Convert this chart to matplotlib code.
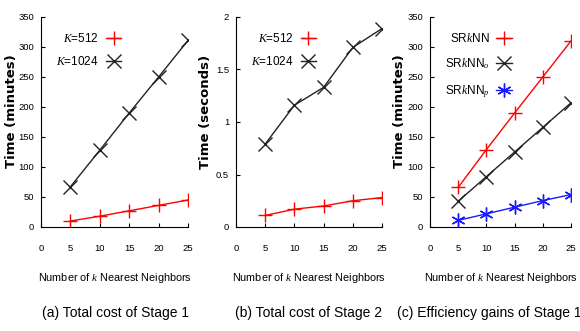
import numpy as np
import matplotlib.pyplot as plt

# ---------------------------------------------------------------------------
# data
# ---------------------------------------------------------------------------
k_vals = [5, 10, 15, 20, 25]

# (a) stage 1 total cost [minutes]
a_k512 = [10, 18, 27, 36, 45]
a_k1024 = [67, 128, 190, 250, 311]

# (b) stage 2 total cost [seconds]
b_k512 = [0.11, 0.17, 0.20, 0.25, 0.28]
b_k1024 = [0.79, 1.16, 1.33, 1.71, 1.89]

# (c) efficiency gains of stage 1 [minutes]
c_srknn = [66, 129, 190, 250, 310]
c_srknn_o = [43, 84, 125, 166, 207]
c_srknn_p = [11, 22, 33, 44, 54]

x_ticks = [0, 5, 10, 15, 20, 25]
captions = ["(a) Total cost of Stage 1", "(b) Total cost of Stage 2",
            "(c) Efficiency gains of Stage 1"]

plt.rcParams['font.family'] = ['Liberation Sans Narrow', 'Liberation Sans', 'DejaVu Sans']
plt.rcParams['mathtext.fontset'] = 'custom'
plt.rcParams['mathtext.it'] = 'Liberation Serif:italic'

W, H = 580, 331
fig = plt.figure(figsize=(W / 100, H / 100), dpi=100)


def px_axes(left, right, top, bottom):
    return fig.add_axes([left / W, 1 - bottom / H, (right - left) / W, (bottom - top) / H])


ax_a = px_axes(41, 188, 17, 227)
ax_b = px_axes(236, 382, 17, 227)
ax_c = px_axes(430, 571, 17, 227)

RED = "#ff0000"
BLK = "#222222"
BLU = "#1a1aff"

line_kw = dict(linewidth=1.0, markersize=10, markeredgewidth=1.0)

ax_a.plot(k_vals, a_k512, color=RED, marker="+", label="$K$=512", **line_kw)
ax_a.plot(k_vals, a_k1024, color=BLK, marker="x", label="$K$=1024", **line_kw)

ax_b.plot(k_vals, b_k512, color=RED, marker="+", label="$K$=512", **line_kw)
ax_b.plot(k_vals, b_k1024, color=BLK, marker="x", label="$K$=1024", **line_kw)

ax_c.plot(k_vals, c_srknn, color=RED, marker="+", label="SR$k$NN", **line_kw)
ax_c.plot(k_vals, c_srknn_o, color=BLK, marker="x", label="SR$k$NN$_o$", **line_kw)
ax_c.plot(k_vals, c_srknn_p, color=BLU, marker=(6, 2, 0), label="SR$k$NN$_p$", **line_kw)

ylims = [(0, 350), (0, 2), (0, 350)]
yticks = [np.arange(0, 351, 50), [0, 0.5, 1, 1.5, 2], np.arange(0, 351, 50)]
yticklabels = [None, ["0", "0.5", "1", "1.5", "2"], None]
ylabels = ["Time (minutes)", "Time (seconds)", "Time (minutes)"]
# ylabel centre x (px) and caption centre x (px) for each panel
ylab_x = [12, 206, 399]
cap_x = [116, 309, 489]

for i, ax in enumerate([ax_a, ax_b, ax_c]):
    ax.set_xlim(0, 25)
    ax.set_ylim(*ylims[i])
    ax.set_xticks(x_ticks)
    ax.set_yticks(yticks[i])
    if yticklabels[i] is not None:
        ax.set_yticklabels(yticklabels[i])
    ax.spines["top"].set_visible(False)
    ax.spines["right"].set_visible(False)
    ax.tick_params(direction="in", length=3, labelsize=6.8, width=0.8)
    ax.tick_params(axis="x", pad=12)
    ax.tick_params(axis="y", pad=5)

    # y label, centred at a fixed pixel column
    x0 = ax.get_position().x0 * W
    x1 = ax.get_position().x1 * W
    ax.set_ylabel(ylabels[i], fontsize=9.5, fontweight="bold", family="DejaVu Sans",
                  va="center")
    ax.yaxis.set_label_coords((ylab_x[i] - x0) / (x1 - x0), 0.55)

    ax.set_xlabel("Number of $k$ Nearest Neighbors", fontsize=7.8, va="center")
    ax.xaxis.set_label_coords(0.5, -(278 - 227) / 210)
    fig.text(cap_x[i] / W, 1 - 313 / H, captions[i], ha="center", va="center", fontsize=10)
    ax.legend(loc="upper left", frameon=False, markerfirst=False, fontsize=8.5,
              handlelength=1.3, handletextpad=0.6, labelspacing=1.0 if i == 2 else 0.9,
              bbox_to_anchor=(0.03, 0.98))

fig.savefig("out.png", dpi=100)
